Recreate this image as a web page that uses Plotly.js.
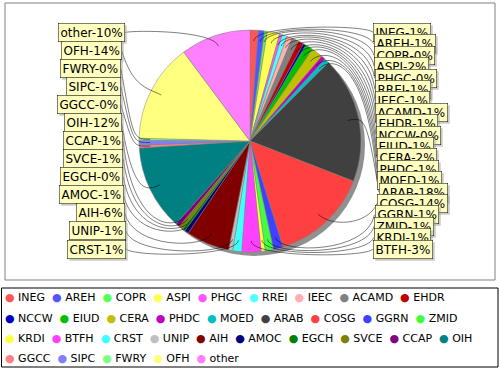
<!DOCTYPE html>
<html><head><meta charset="utf-8">
<script src="https://cdn.plot.ly/plotly-3.0.1.min.js"></script>
<style>html,body{margin:0;padding:0;background:#fff}</style>
</head><body><div id="chart" style="width:500px;height:370px"></div>
<script>
// ---- data ----
const categories = ["INEG","AREH","COPR","ASPI","PHGC","RREI","IEEC","ACAMD","EHDR","NCCW",
  "EIUD","CERA","PHDC","MOED","ARAB","COSG","GGRN","ZMID","KRDI","BTFH",
  "CRST","UNIP","AIH","AMOC","EGCH","SVCE","CCAP","OIH","GGCC","SIPC","FWRY","OFH","other"];
const values = [1.2,0.9,0.4,1.8,0.4,0.7,0.8,1.0,0.8,0.4,
  1.1,1.7,0.6,0.7,18.4,14.3,1.4,1.2,0.6,2.8,
  1.3,0.6,6.3,0.6,0.4,0.6,0.6,12.4,0.4,0.7,0.3,14.4,10.2];
const colors = ["#FF5555","#5555FF","#55FF55","#FFFF55","#FF55FF","#55FFFF","#FFAFAF","#808080","#C00000","#0000C0",
  "#00C000","#C0C000","#C000C0","#00C0C0","#404040","#FF4040","#4040FF","#40FF40","#FFFF40","#FF40FF",
  "#40FFFF","#C0C0C0","#800000","#000080","#008000","#808000","#800080","#008080","#FF8080","#8080FF","#80FF80","#FFFF80","#FF80FF"];

// ---- layout constants ----
const W = 500, H = 370;
const CX = 250, CY = 141, R = 111;
const LINK_R = R / 0.95;          // link area radius
const LGAP = 490 * 0.025;         // label gap
const LINK_DEPTH = 0.9;
const LABEL_TOP = 32.5, LABEL_BOT = 249;
const px = x => x / W, py = y => 1 - y / H;

const total = values.reduce((a, b) => a + b, 0);
let cum = 0;
const recs = categories.map((c, i) => {
  const mid = (cum + values[i] / 2) / total * 360;
  cum += values[i];
  const th = (90 - mid) * Math.PI / 180;
  return {i, name: c, mid, th, right: mid < 180,
    baseY: CY - Math.sin(th) * LINK_R,
    text: c + "-" + Math.round(values[i] / total * 100) + "%"};
});

function allocate(list) {
  list.sort((a, b) => a.baseY - b.baseY);
  const n = list.length;
  list.forEach((r, k) => { r.y = LABEL_TOP + k * (LABEL_BOT - LABEL_TOP) / (n - 1); });
}
const rightL = recs.filter(r => r.right), leftL = recs.filter(r => !r.right);
allocate(rightL); allocate(leftL);

const shapes = [];
const annotations = [];
// plot area border & legend border
shapes.push({type: "rect", xref: "paper", yref: "paper", x0: px(5), x1: px(495), y0: py(3), y1: py(280),
  line: {color: "#808080", width: 1}, layer: "below"});
shapes.push({type: "rect", xref: "paper", yref: "paper", x0: px(1.5), x1: px(498), y0: py(288), y1: py(367),
  line: {color: "#000", width: 1}, layer: "below"});

recs.forEach(r => {
  const c = Math.cos(r.th), s = Math.sin(r.th);
  const lx = CX + c * R * LINK_DEPTH, ly = CY - s * R * LINK_DEPTH;
  const ex = CX + c * LINK_R, ey = CY - s * LINK_R;
  const ax = r.right ? CX + LINK_R : CX - LINK_R;
  const gap = r.right ? LGAP / 2 + LGAP / 2 * c : LGAP / 2 - LGAP / 2 * c;
  const tx = r.right ? ax + gap : ax - gap;
  r.tx = tx;
  shapes.push({type: "path", xref: "paper", yref: "paper", layer: "above",
    path: `M ${px(lx)},${py(ly)} C ${px(ex)},${py(ey)} ${px(ax)},${py(ey)} ${px(tx)},${py(r.y)}`,
    line: {color: "#000", width: 0.5}});
});

function addLabels(list) {
  list.forEach(r => {
    const base = {xref: "paper", yref: "paper", x: px(r.tx), y: py(r.y), showarrow: false,
      xanchor: r.right ? "left" : "right", yanchor: "middle", text: r.text,
      font: {family: "DejaVu Sans", size: 12, color: "#000"}, borderpad: 2, borderwidth: 0.5};
    annotations.push(Object.assign({}, base, {xshift: 2, yshift: -2, bgcolor: "rgba(151,151,151,0.5)",
      bordercolor: "rgba(0,0,0,0)", font: {family: "DejaVu Sans", size: 12, color: "rgba(0,0,0,0)"}}));
    annotations.push(Object.assign({}, base, {bgcolor: "#FFFFC0", bordercolor: "#000"}));
  });
}
addLabels(rightL); addLabels(leftL);

// legend rows
const rowStarts = [0, 9, 18, 28, 33];
const rowY = [297, 318, 338, 358];
for (let k = 0; k < 4; k++) {
  const parts = [];
  for (let i = rowStarts[k]; i < rowStarts[k + 1]; i++) {
    parts.push(`<span style="color:${colors[i]}">●</span>\u00a0${categories[i]}`);
  }
  annotations.push({xref: "paper", yref: "paper", x: px(3), y: py(rowY[k]), xanchor: "left", yanchor: "middle",
    showarrow: false, align: "left", text: parts.join("\u00a0\u00a0"),
    font: {family: "DejaVu Sans", size: 11, color: "#000"}});
}

const dx = (CX - R) / W, dx2 = (CX + R) / W;
const dy = (H - CY - R) / H, dy2 = (H - CY + R) / H;
const shadow = {type: "pie", values: [1], labels: ["shadow"], marker: {colors: ["#909090"], line: {width: 0}},
  domain: {x: [dx + 4 / W, dx2 + 4 / W], y: [dy - 4 / H, dy2 - 4 / H]},
  textinfo: "none", hoverinfo: "skip", showlegend: false, sort: false};
const pie = {type: "pie", values: values, labels: categories,
  marker: {colors: colors, line: {color: "#808080", width: 0.5}},
  domain: {x: [dx, dx2], y: [dy, dy2]}, sort: false, direction: "clockwise", rotation: 0,
  textinfo: "none", hoverinfo: "label+percent", showlegend: false};

Plotly.newPlot("chart", [shadow, pie], {
  width: W, height: H, margin: {l: 0, r: 0, t: 0, b: 0}, autosize: false,
  paper_bgcolor: "#fff", plot_bgcolor: "#fff", showlegend: false,
  shapes: shapes, annotations: annotations
}, {staticPlot: true});
</script></body></html>
